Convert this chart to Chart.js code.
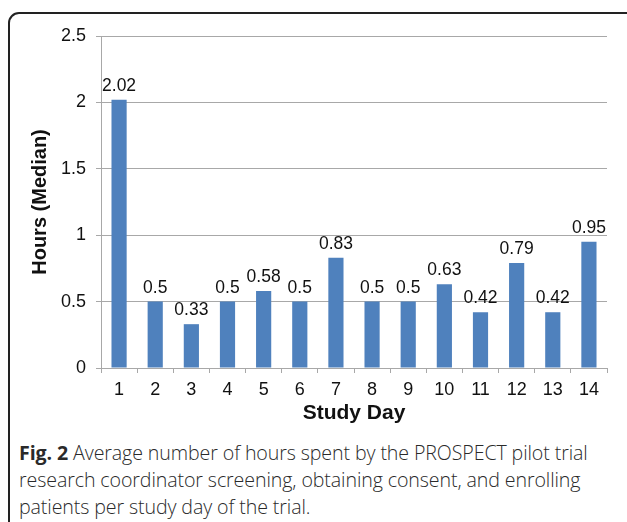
<!DOCTYPE html>
<html>
<head>
<meta charset="utf-8">
<script src="https://cdn.jsdelivr.net/npm/chart.js@4.4.1/dist/chart.umd.min.js"></script>
<style>
  html, body { margin: 0; padding: 0; background: #fff; overflow: hidden; }
  body { width: 627px; height: 522px; position: relative; }
  .frame {
    position: absolute; left: 8px; top: 12px; width: 660px; height: 560px;
    border: 2px solid #222; border-radius: 11px; box-sizing: border-box;
  }
  .chart-wrap { position: absolute; left: 0; top: 0; width: 627px; height: 432px; }
  .caption {
    position: absolute; left: 19px; top: 439px; width: 605px;
    font-family: "Open Sans", sans-serif; font-size: 19.6px; line-height: 27px;
    color: #2a2a2a; font-weight: 300; letter-spacing: -0.1px;
  }
  .caption b { font-weight: 700; }
</style>
</head>
<body>
<div class="frame"></div>
<div class="chart-wrap"><canvas id="chart" width="627" height="432"></canvas></div>
<div class="caption"><b>Fig. 2</b> Average number of hours spent by the PROSPECT pilot trial research coordinator screening, obtaining consent, and enrolling patients per study day of the trial.</div>
<script>
// ===== 数据 =====
const STUDY_DAYS = ['1', '2', '3', '4', '5', '6', '7', '8', '9', '10', '11', '12', '13', '14'];
const MEDIAN_HOURS = [2.02, 0.5, 0.33, 0.5, 0.58, 0.5, 0.83, 0.5, 0.5, 0.63, 0.42, 0.79, 0.42, 0.95];
const Y_TICKS = [0, 0.5, 1, 1.5, 2, 2.5];

const FONT = '"Liberation Sans", Arial, Helvetica, sans-serif';
const BAR_COLOR = '#4f81bd';
const GRID_COLOR = '#a8a8a8';

// 柱顶数值标签
const valueLabels = {
  id: 'valueLabels',
  afterDatasetsDraw(chart) {
    const ctx = chart.ctx;
    const meta = chart.getDatasetMeta(0);
    ctx.save();
    ctx.font = '17.5px ' + FONT;
    ctx.fillStyle = '#111';
    ctx.textAlign = 'center';
    ctx.textBaseline = 'alphabetic';
    meta.data.forEach((bar, i) => {
      ctx.fillText(String(MEDIAN_HOURS[i]), bar.x, bar.y - 9);
    });
    ctx.restore();
  }
};

new Chart(document.getElementById('chart'), {
  type: 'bar',
  data: {
    labels: STUDY_DAYS,
    datasets: [{
      data: MEDIAN_HOURS,
      backgroundColor: BAR_COLOR,
      borderWidth: 0,
      categoryPercentage: 1,
      barPercentage: 0.42
    }]
  },
  options: {
    responsive: false,
    animation: false,
    layout: { padding: { left: 24, right: 20, top: 36, bottom: 2 } },
    plugins: { legend: { display: false }, tooltip: { enabled: false } },
    scales: {
      x: {
        grid: { drawOnChartArea: false, drawTicks: true, tickLength: 5, color: GRID_COLOR },
        border: { color: GRID_COLOR },
        ticks: { color: '#111', font: { family: FONT, size: 18 }, padding: 6, maxRotation: 0 },
        title: { display: true, text: 'Study Day', color: '#111', font: { family: FONT, size: 21, weight: 'bold' }, padding: { top: 0, bottom: 4 } },
        afterFit: (axis) => { axis.height = 62; }
      },
      y: {
        min: 0,
        max: 2.5,
        afterBuildTicks: (axis) => { axis.ticks = Y_TICKS.map(v => ({ value: v })); },
        grid: { color: GRID_COLOR, tickLength: 5 },
        border: { color: GRID_COLOR },
        ticks: { color: '#111', font: { family: FONT, size: 18 }, padding: 10, callback: (v) => String(v) },
        title: { display: true, text: 'Hours (Median)', color: '#111', font: { family: FONT, size: 20, weight: 'bold' }, padding: { top: 4, bottom: 0 } },
        afterFit: (axis) => { axis.width = 77; }
      }
    }
  },
  plugins: [valueLabels]
});
</script>
</body>
</html>
